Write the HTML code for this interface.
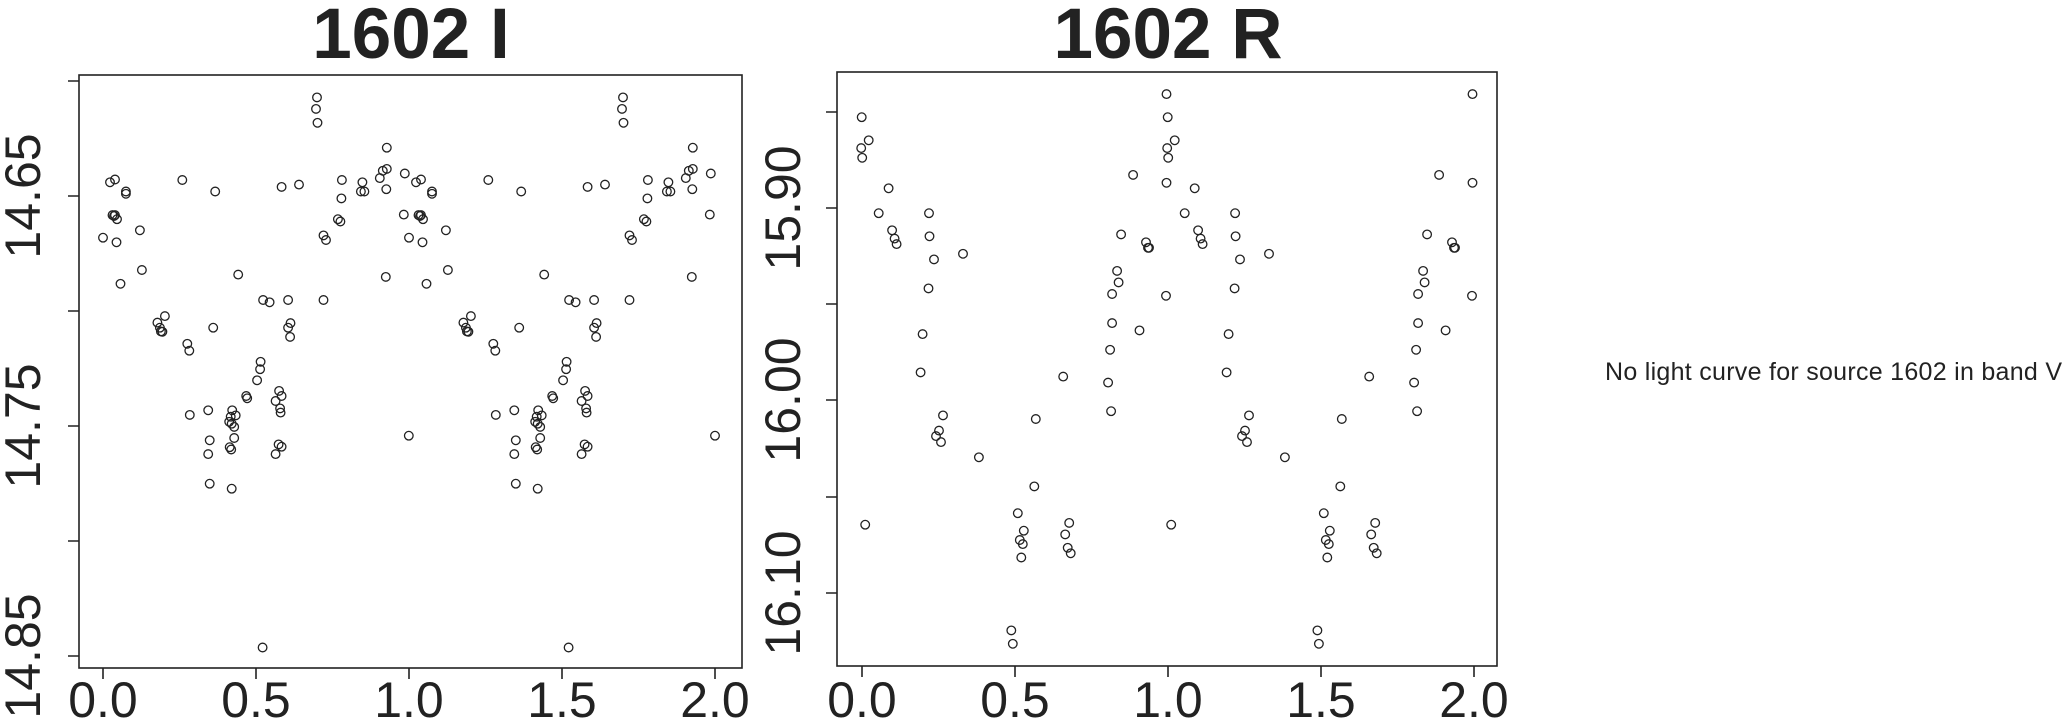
<!DOCTYPE html>
<html><head><meta charset="utf-8"><style>
html,body{margin:0;padding:0;background:#fff;}
svg{display:block;font-family:"Liberation Sans",Arial,sans-serif;}
</style></head><body>
<svg id="s" width="2069" height="723" viewBox="0 0 2069 723" xmlns="http://www.w3.org/2000/svg">
<g fill="#222">
<text x="411" y="58" font-size="71" font-weight="bold" text-anchor="middle">1602 I</text>
<text x="1168" y="58" font-size="71" font-weight="bold" text-anchor="middle">1602 R</text>
<text x="1605" y="380" font-size="25" textLength="457">No light curve for source 1602 in band V</text>
<g font-size="50" text-anchor="middle">
<text x="103" y="717">0.0</text><text x="256" y="717">0.5</text><text x="409" y="717">1.0</text><text x="562" y="717">1.5</text><text x="715" y="717">2.0</text>
<text x="862" y="717">0.0</text><text x="1015" y="717">0.5</text><text x="1168" y="717">1.0</text><text x="1321" y="717">1.5</text><text x="1474" y="717">2.0</text>
<text transform="translate(40,196) rotate(-90)">14.65</text>
<text transform="translate(40,426) rotate(-90)">14.75</text>
<text transform="translate(40,656) rotate(-90)">14.85</text>
<text transform="translate(800,208) rotate(-90)">15.90</text>
<text transform="translate(800,400) rotate(-90)">16.00</text>
<text transform="translate(800,593) rotate(-90)">16.10</text>
</g></g>
<g stroke="#222" stroke-width="1.6" fill="none">
<rect x="79" y="75" width="663" height="593"/>
<rect x="837" y="72" width="660" height="594"/>
<path d="M103 668v11M256 668v11M409 668v11M562 668v11M715 668v11
M68 81h11M68 196h11M68 311h11M68 426h11M68 541h11M68 656h11
M862 666v11M1015 666v11M1168 666v11M1321 666v11M1474 666v11
M826 112h11M826 208h11M826 304h11M826 400h11M826 497h11M826 593h11"/>
</g>
<g id="pts" stroke="#222" stroke-width="1.3" fill="none"></g>
</svg>
<script>
var I=[[207,515],[221,395],[231,389],[253,415],[253,420],[226,466],[229,468],[231,466],[235,475],[234,525],[281,499],[242,615],[285,585],[316,699],[321,710],[323,718],[326,719],[331,685],[366,390],[376,745],[380,760],[381,899],[428,710],[432,415],[418,889],[421,954],[418,984],[421,1048],[465,1059],[461,969],[464,974],[470,949],[460,914],[465,918],[470,925],[466,889],[473,900],[463,903],[478,595],[494,858],[496,863],[516,824],[523,784],[522,800],[528,650],[541,655],[578,650],[553,984],[559,963],[565,968],[553,869],[560,847],[565,858],[562,885],[563,894],[527,1403],[565,405],[583,700],[578,710],[582,730],[600,400],[636,211],[634,236],[637,266],[649,510],[654,520],[649,650],[678,475],[683,480],[686,390],[685,430],[727,395],[724,415],[731,415],[762,386],[768,370],[776,366],[776,320],[775,410],[774,600],[812,376],[810,465]];
var R=[[244,254],[243,321],[245,342],[258,304],[251,1137],[278,462],[298,408],[305,499],[310,517],[314,529],[379,462],[380,512],[389,562],[378,625],[366,724],[362,807],[447,550],[407,900],[399,933],[393,945],[403,958],[479,991],[557,1112],[569,1150],[561,1170],[567,1179],[564,1208],[544,1366],[547,1395],[590,1054],[593,908],[648,816],[660,1133],[652,1158],[657,1187],[663,1199],[738,829],[744,891],[742,758],[746,700],[746,637],[759,612],[756,587],[764,508],[788,379],[801,716],[814,525],[818,537],[820,537],[854,641],[855,396],[855,204]];
var g=document.getElementById('pts'),h='';
function c(x,y){h+='<circle cx="'+x.toFixed(1)+'" cy="'+y.toFixed(1)+'" r="4.3"/>';}
I.forEach(function(p){for(var k=0;k<2;k++){c(103+(p[0]+k*613.5-207)*0.4988,p[1]*0.4615);}});
c(103+(820-207)*0.4988,944*0.4615);c(103+(1434-207)*0.4988,944*0.4615);
R.forEach(function(p){for(var k=0;k<2;k++){c(740+(p[0]+k*613.5)*0.4988,p[1]*0.4615);}});
g.innerHTML=h;
</script>
</body></html>
